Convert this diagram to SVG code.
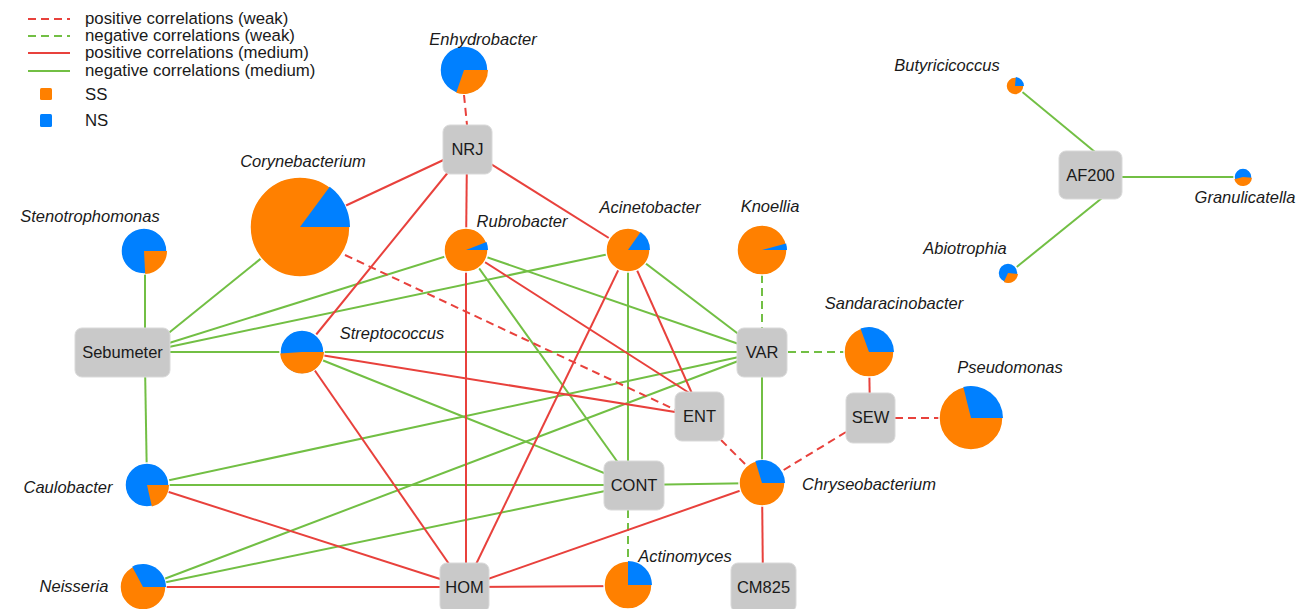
<svg xmlns="http://www.w3.org/2000/svg" width="1305" height="609" viewBox="0 0 1305 609">
<style>
.pos{stroke:#e8413c;stroke-width:2;fill:none}
.neg{stroke:#72bf44;stroke-width:2;fill:none}
.dash{stroke-dasharray:8 5}
.box{fill:#c9c9c9;stroke:#d9d9d9;stroke-width:1}
.bl{font-family:"Liberation Sans",Arial,sans-serif;font-size:16.5px;fill:#1a1a1a;text-anchor:middle}
.tl{font-family:"Liberation Sans",Arial,sans-serif;font-size:16.5px;font-style:italic;fill:#1a1a1a;text-anchor:middle}
.lg{font-family:"Liberation Sans",Arial,sans-serif;font-size:16.8px;fill:#1a1a1a}
.or{fill:#ff8000}
.bu{fill:#0080ff}
.ring{stroke:#ffffff;stroke-width:1.5}
</style>

<g id="legend">
<line class="pos dash" x1="28" y1="19" x2="70" y2="19"/>
<line class="neg dash" x1="28" y1="36" x2="70" y2="36"/>
<line class="pos" x1="28" y1="53" x2="70" y2="53"/>
<line class="neg" x1="28" y1="71" x2="70" y2="71"/>
<text class="lg" x="85" y="24">positive correlations (weak)</text>
<text class="lg" x="85" y="41">negative correlations (weak)</text>
<text class="lg" x="85" y="58">positive correlations (medium)</text>
<text class="lg" x="85" y="76">negative correlations (medium)</text>
<rect class="or" x="40" y="88" width="12" height="12" rx="1.5"/>
<rect class="bu" x="40" y="114" width="12" height="13" rx="1.5"/>
<text class="lg" x="85" y="100">SS</text>
<text class="lg" x="85" y="126">NS</text>
</g>

<g id="connectors">
<!-- negative medium -->
<line class="neg" x1="145" y1="260" x2="145" y2="340"/>
<line class="neg" x1="145" y1="365" x2="147" y2="485"/>
<line class="neg" x1="300" y1="227" x2="160" y2="340"/>
<line class="neg" x1="150" y1="349" x2="466" y2="250"/>
<line class="neg" x1="150" y1="351" x2="628" y2="250"/>
<line class="neg" x1="150" y1="352" x2="302" y2="352"/>
<line class="neg" x1="302" y1="352" x2="762" y2="352"/>
<line class="neg" x1="302" y1="352" x2="634" y2="485"/>
<line class="neg" x1="466" y1="250" x2="634" y2="485"/>
<line class="neg" x1="466" y1="250" x2="762" y2="352"/>
<line class="neg" x1="628" y1="250" x2="628" y2="485"/>
<line class="neg" x1="628" y1="250" x2="762" y2="352"/>
<line class="neg" x1="762" y1="352" x2="762" y2="483"/>
<line class="neg" x1="147" y1="485" x2="762" y2="352"/>
<line class="neg" x1="143" y1="587" x2="762" y2="352"/>
<line class="neg" x1="143" y1="587" x2="634" y2="485"/>
<line class="neg" x1="147" y1="485" x2="634" y2="485"/>
<line class="neg" x1="634" y1="485" x2="762" y2="483"/>
<line class="neg" x1="1015" y1="86" x2="1095" y2="152"/>
<line class="neg" x1="1100" y1="177" x2="1243" y2="177"/>
<line class="neg" x1="1008" y1="274" x2="1102" y2="198"/>
<!-- negative weak -->
<line class="neg dash" x1="762" y1="275" x2="762" y2="340"/>
<line class="neg dash" x1="775" y1="352" x2="869" y2="352"/>
<line class="neg dash" x1="628" y1="510" x2="628" y2="585"/>
<!-- positive medium -->
<line class="pos" x1="467" y1="149" x2="300" y2="227"/>
<line class="pos" x1="467" y1="149" x2="302" y2="352"/>
<line class="pos" x1="467" y1="149" x2="466" y2="250"/>
<line class="pos" x1="467" y1="149" x2="628" y2="250"/>
<line class="pos" x1="302" y1="352" x2="700" y2="416"/>
<line class="pos" x1="302" y1="352" x2="465" y2="587"/>
<line class="pos" x1="466" y1="250" x2="466" y2="587"/>
<line class="pos" x1="466" y1="250" x2="694" y2="396"/>
<line class="pos" x1="628" y1="250" x2="694" y2="398"/>
<line class="pos" x1="628" y1="250" x2="465" y2="587"/>
<line class="pos" x1="147" y1="485" x2="465" y2="587"/>
<line class="pos" x1="143" y1="587" x2="465" y2="587"/>
<line class="pos" x1="465" y1="587" x2="628" y2="586"/>
<line class="pos" x1="465" y1="587" x2="762" y2="483"/>
<line class="pos" x1="762" y1="483" x2="763" y2="587"/>
<line class="pos" x1="869" y1="352" x2="870" y2="417"/>
<!-- positive weak -->
<line class="pos dash" x1="464" y1="95" x2="467" y2="125"/>
<line class="pos dash" x1="345" y1="255" x2="680" y2="412"/>
<line class="pos dash" x1="895" y1="418" x2="940" y2="418"/>
<line class="pos dash" x1="846" y1="432" x2="782" y2="471"/>
<line class="pos dash" x1="721" y1="440" x2="746" y2="465"/>
</g>

<g id="NRJ"><rect class="box" x="443" y="125" width="49" height="49" rx="7"/><text class="bl" x="467.5" y="155">NRJ</text></g>
<g id="Sebumeter"><rect class="box" x="75" y="328" width="95" height="49" rx="7"/><text class="bl" x="122.5" y="358">Sebumeter</text></g>
<g id="VAR"><rect class="box" x="737" y="328" width="50" height="49" rx="7"/><text class="bl" x="762" y="358">VAR</text></g>
<g id="ENT"><rect class="box" x="675" y="392" width="49" height="49" rx="7"/><text class="bl" x="699.5" y="422">ENT</text></g>
<g id="SEW"><rect class="box" x="846" y="393" width="49" height="50" rx="7"/><text class="bl" x="870.5" y="423">SEW</text></g>
<g id="CONT"><rect class="box" x="604" y="461" width="60" height="49" rx="7"/><text class="bl" x="634" y="491">CONT</text></g>
<g id="HOM"><rect class="box" x="440" y="563" width="49" height="49" rx="7"/><text class="bl" x="464.5" y="593">HOM</text></g>
<g id="CM825"><rect class="box" x="731" y="563" width="65" height="49" rx="7"/><text class="bl" x="763.5" y="593">CM825</text></g>
<g id="AF200"><rect class="box" x="1059" y="151" width="63" height="48" rx="7"/><text class="bl" x="1090.5" y="181">AF200</text></g>

<g id="Enhydrobacter"><circle class="bu ring" cx="464" cy="70" r="24"/><path class="or" d="M464,70 L488,70 A24,24 0 0 1 456.2,92.7 Z"/><text class="tl" x="483" y="45">Enhydrobacter</text></g>
<g id="Corynebacterium"><circle class="or ring" cx="300" cy="227" r="50"/><path class="bu" d="M300,227 L329.7,186.8 A50,50 0 0 1 350,227 Z"/><text class="tl" x="303" y="167">Corynebacterium</text></g>
<g id="Rubrobacter"><circle class="or ring" cx="466" cy="250" r="22"/><path class="bu" d="M466,250 L486.5,242.1 A22,22 0 0 1 488,250 Z"/><text class="tl" x="522" y="227">Rubrobacter</text></g>
<g id="Acinetobacter"><circle class="or ring" cx="628" cy="250" r="22"/><path class="bu" d="M628,250 L640.6,232 A22,22 0 0 1 650,250 Z"/><text class="tl" x="650" y="213">Acinetobacter</text></g>
<g id="Stenotrophomonas"><circle class="bu ring" cx="144" cy="251" r="23"/><path class="or" d="M144,251 L167,251 A23,23 0 0 1 145.2,274 Z"/><text class="tl" x="90" y="222">Stenotrophomonas</text></g>
<g id="Knoellia"><circle class="or ring" cx="762" cy="250" r="25"/><path class="bu" d="M762,250 L786.1,243.5 A25,25 0 0 1 787,250 Z"/><text class="tl" x="770" y="212">Knoellia</text></g>
<g id="Streptococcus"><circle class="bu ring" cx="302" cy="352" r="22"/><path class="or" d="M302,352 L324,352 A22,22 0 0 1 280.1,353.5 Z"/><text class="tl" x="392" y="339">Streptococcus</text></g>
<g id="Sandaracinobacter"><circle class="or ring" cx="869" cy="352" r="25"/><path class="bu" d="M869,352 L860.5,328.5 A25,25 0 0 1 894,352 Z"/><text class="tl" x="894" y="309">Sandaracinobacter</text></g>
<g id="Pseudomonas"><circle class="or ring" cx="971" cy="418" r="32"/><path class="bu" d="M971,418 L963.3,387 A32,32 0 0 1 1003,418 Z"/><text class="tl" x="1010" y="373">Pseudomonas</text></g>
<g id="Chryseobacterium"><circle class="or ring" cx="762" cy="483" r="23"/><path class="bu" d="M762,483 L755.3,461 A23,23 0 0 1 785,483 Z"/><text class="tl" x="869" y="490">Chryseobacterium</text></g>
<g id="Caulobacter"><circle class="bu ring" cx="147" cy="485" r="22"/><path class="or" d="M147,485 L169,485 A22,22 0 0 1 151.9,506.4 Z"/><text class="tl" x="68" y="493">Caulobacter</text></g>
<g id="Neisseria"><circle class="or ring" cx="143" cy="587" r="23"/><path class="bu" d="M143,587 L132.2,566.7 A23,23 0 0 1 166,587 Z"/><text class="tl" x="74" y="592">Neisseria</text></g>
<g id="Actinomyces"><circle class="or ring" cx="628" cy="585" r="24"/><path class="bu" d="M628,585 L628,561 A24,24 0 0 1 652,585 Z"/><text class="tl" x="685" y="562">Actinomyces</text></g>
<g id="Butyricicoccus"><circle class="or ring" cx="1015" cy="86" r="9"/><path class="bu" d="M1015,86 L1015.8,77 A9,9 0 0 1 1024,86 Z"/><text class="tl" x="947" y="71">Butyricicoccus</text></g>
<g id="Granulicatella"><circle class="bu ring" cx="1243" cy="177" r="9"/><path class="or" d="M1243,177 L1252,177.8 A9,9 0 0 1 1234.3,179.3 Z"/><text class="tl" x="1245" y="203">Granulicatella</text></g>
<g id="Abiotrophia"><circle class="bu ring" cx="1008" cy="273" r="10"/><path class="or" d="M1008,273 L1018,274 A10,10 0 0 1 1003.8,282.1 Z"/><text class="tl" x="965" y="254">Abiotrophia</text></g>
</svg>
